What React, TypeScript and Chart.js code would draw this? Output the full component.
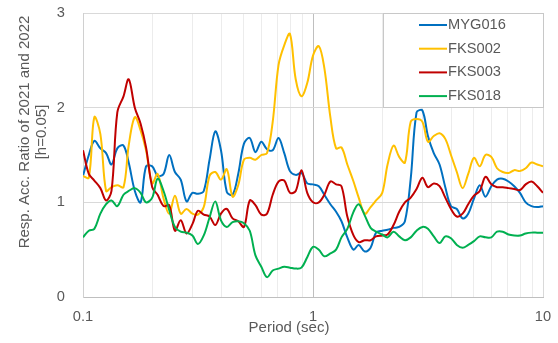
import React, { useEffect, useRef } from "react";
import { Chart, registerables } from "chart.js";

Chart.register(...registerables);

// ---- data ----
const periods = [
  0.1, 0.106, 0.112, 0.119, 0.126, 0.133, 0.141, 0.15, 0.158, 0.168,
  0.178, 0.188, 0.2, 0.211, 0.224, 0.237, 0.251, 0.266, 0.282, 0.299,
  0.316, 0.335, 0.355, 0.376, 0.398, 0.422, 0.447, 0.473, 0.501, 0.531,
  0.562, 0.596, 0.631, 0.668, 0.708, 0.75, 0.794, 0.841, 0.891, 0.944,
  1, 1.06, 1.12, 1.19, 1.26, 1.33, 1.41, 1.5, 1.58, 1.68,
  1.78, 1.88, 2, 2.11, 2.24, 2.37, 2.51, 2.66, 2.82, 2.99,
  3.16, 3.35, 3.55, 3.76, 3.98, 4.22, 4.47, 4.73, 5.01, 5.31,
  5.62, 5.96, 6.31, 6.68, 7.08, 7.5, 7.94, 8.41, 8.91, 9.44,
  10,
];

const myg016 = [
  1.28, 1.5, 1.65, 1.57, 1.52, 1.4, 1.57, 1.6, 1.42, 1.12,
  1.0, 1.38, 1.38, 1.28, 1.3, 1.5, 1.32, 1.24, 1.01, 1.1,
  1.09, 1.12, 1.45, 1.75, 1.55, 1.11, 1.08, 1.3, 1.62, 1.68,
  1.53, 1.64, 1.56, 1.55, 1.68, 1.52, 1.33, 1.29, 1.31, 1.2,
  1.19, 1.17, 1.08, 0.98, 0.9, 0.8, 0.63, 0.5, 0.55, 0.48,
  0.52, 0.68, 0.7, 0.71, 0.73, 0.74, 0.8, 1.25, 1.95, 1.97,
  1.7, 1.52, 1.4, 1.16, 0.96, 0.93, 0.83, 0.88, 1.04, 1.18,
  1.06, 1.17, 1.24, 1.25, 1.22, 1.17, 1.1, 1.0, 0.96, 0.95,
  0.96,
];

const fks002 = [
  1.28, 1.26, 1.9, 1.72, 1.12, 1.16, 1.18, 1.16, 1.6, 1.9,
  1.76, 1.55, 1.2, 1.3, 1.04, 0.88, 1.07, 0.88, 0.93, 0.88,
  0.87, 0.95, 1.28, 1.32, 1.24, 1.35, 1.06, 1.18, 1.45, 1.47,
  1.45, 1.5, 1.52, 1.85, 2.45, 2.66, 2.78, 2.3, 2.12, 2.26,
  2.55, 2.65, 2.42, 1.9, 1.57, 1.58, 1.4, 1.22, 1.05, 0.88,
  0.95, 1.02, 1.1, 1.4, 1.6, 1.48, 1.42, 1.85, 1.88, 1.85,
  1.64, 1.7, 1.73, 1.67, 1.5, 1.32, 1.15, 1.3, 1.47, 1.38,
  1.5, 1.48, 1.36, 1.32, 1.31, 1.34, 1.33, 1.36, 1.42, 1.4,
  1.38,
];

const fks003 = [
  1.55, 1.3, 1.23, 1.15, 1.02, 1.12, 1.95, 2.12, 2.3, 2.0,
  1.83, 1.58, 1.16, 1.08, 0.96, 0.97, 0.7, 0.81, 0.67, 0.77,
  0.91, 0.87, 0.85, 0.76, 0.88, 0.93, 0.83, 0.8, 0.74, 1.02,
  0.97, 0.87, 0.88, 1.08, 1.22, 1.23, 1.1, 1.12, 1.34, 1.1,
  1.0, 1.0, 1.08, 1.22, 1.19, 1.17, 0.85, 0.65, 0.58, 0.6,
  0.6, 0.64, 0.65, 0.66, 0.76, 0.9, 1.0, 1.05, 1.14, 1.26,
  1.16, 1.2, 1.17, 1.05, 0.93, 0.85, 0.88, 0.98, 1.07, 1.12,
  1.27, 1.19, 1.16, 1.16, 1.15, 1.14, 1.13, 1.19, 1.22, 1.17,
  1.1,
];

const fks018 = [
  0.63, 0.7, 0.72, 0.88, 0.98, 1.02, 0.96, 1.08, 1.12, 1.15,
  1.1, 1.0, 1.05, 1.25, 1.12, 0.92, 0.74, 0.69, 0.68, 0.65,
  0.56, 0.65, 0.84, 1.01, 0.81, 0.74, 0.79, 0.8, 0.78, 0.7,
  0.44, 0.32, 0.21, 0.28, 0.3, 0.32, 0.31, 0.3, 0.31, 0.42,
  0.53, 0.5, 0.43, 0.46, 0.5, 0.63, 0.72, 0.9, 0.98, 0.86,
  0.73, 0.69, 0.66, 0.63, 0.69, 0.64, 0.6, 0.63, 0.7, 0.74,
  0.72, 0.64, 0.57, 0.64, 0.62, 0.55, 0.52, 0.55, 0.59, 0.64,
  0.63, 0.63, 0.69, 0.69, 0.66, 0.65, 0.65, 0.67, 0.68, 0.68,
  0.68,
];

const seriesNames = ["MYG016", "FKS002", "FKS003", "FKS018"];
const seriesColors = ["#0070C0", "#FFC000", "#C00000", "#00B050"];

const xGridValues = [
  0.1, 0.2, 0.3, 0.4, 0.5, 0.6, 0.7, 0.8, 0.9,
  1, 2, 3, 4, 5, 6, 7, 8, 9, 10,
];
const xLabelValues = [0.1, 1, 10];
const yMin = 0;
const yMax = 3;
const yStep = 1;

const yTitleLines = ["Resp. Acc. Ratio of 2021 and 2022", "[h=0.05]"];
const xTitle = "Period (sec)";

const FONT = '"Liberation Sans", Arial, sans-serif';
const TEXT = "#595959";

const overlayPlugin = {
  id: "overlay",
  afterDraw(chart: any) {
    const { ctx, chartArea } = chart;
    ctx.save();
    ctx.fillStyle = TEXT;
    ctx.textAlign = "center";
    ctx.textBaseline = "middle";
    ctx.font = `15px ${FONT}`;
    const midY = chartArea.top + 119;
    yTitleLines.forEach((line, i) => {
      ctx.save();
      ctx.translate(25 + i * 17, midY);
      ctx.rotate(-Math.PI / 2);
      ctx.fillText(line, 0, 0);
      ctx.restore();
    });
    ctx.fillText(xTitle, chartArea.left + 206, chartArea.bottom + 31);

    // legend box
    const bw = 160;
    const bh = 94;
    const bx = chartArea.right - bw;
    const by = chartArea.top;
    ctx.fillStyle = "#ffffff";
    ctx.fillRect(bx, by, bw, bh);
    ctx.strokeStyle = "#c8c8c8";
    ctx.lineWidth = 1;
    ctx.strokeRect(Math.round(bx) + 0.5, Math.round(by) + 0.5, bw, bh);
    ctx.font = `14.67px ${FONT}`;
    ctx.textAlign = "left";
    chart.data.datasets.forEach((ds: any, i: number) => {
      const yy = by + 12 + i * 23.7;
      ctx.strokeStyle = ds.borderColor;
      ctx.lineWidth = 2;
      ctx.beginPath();
      ctx.moveTo(bx + 36, yy);
      ctx.lineTo(bx + 64, yy);
      ctx.stroke();
      ctx.fillStyle = TEXT;
      ctx.fillText(ds.label, bx + 65, yy);
    });
    ctx.restore();
  },
};

export default function App() {
  const canvasRef = useRef<HTMLCanvasElement | null>(null);

  useEffect(() => {
    const canvas = canvasRef.current;
    if (!canvas) return;
    const all = [myg016, fks002, fks003, fks018];
    const chart = new Chart(canvas, {
      type: "line",
      data: {
        datasets: all.map((vals, i) => ({
          label: seriesNames[i],
          data: periods.map((p, j) => ({ x: p, y: vals[j] })),
          borderColor: seriesColors[i],
          backgroundColor: seriesColors[i],
          borderWidth: 2,
          pointRadius: 0,
          tension: 0.35,
          fill: false,
          order: 4 - i,
        })),
      },
      options: {
        responsive: false,
        animation: false,
        devicePixelRatio: 1,
        layout: { padding: { left: 0, right: 15, top: 13, bottom: 0 } },
        plugins: {
          legend: { display: false },
          tooltip: { enabled: false },
        },
        scales: {
          x: {
            type: "logarithmic",
            min: 0.1,
            max: 10,
            afterBuildTicks: (scale: any) => {
              scale.ticks = xGridValues.map((v) => ({ value: v, major: xLabelValues.includes(v) }));
            },
            afterFit: (scale: any) => {
              scale.height = 46;
              scale.paddingLeft = 0;
              scale.paddingRight = 0;
            },
            ticks: {
              autoSkip: false,
              maxRotation: 0,
              padding: 11,
              color: TEXT,
              font: { family: FONT, size: 14.67 },
              callback: (v: any) => (xLabelValues.includes(Number(v)) ? String(v) : ""),
            },
            grid: {
              drawTicks: false,
              color: (c: any) => {
                const v = c.tick && c.tick.value;
                if (v === 1) return "#bfbfbf";
                if (v === 10) return "#d9d9d9";
                return "#ececec";
              },
            },
            border: { color: "#bfbfbf" },
          },
          y: {
            type: "linear",
            min: yMin,
            max: yMax,
            afterFit: (scale: any) => {
              scale.width = 83;
              scale.paddingTop = 0;
              scale.paddingBottom = 0;
            },
            ticks: {
              stepSize: yStep,
              padding: 18,
              color: TEXT,
              font: { family: FONT, size: 14.67 },
            },
            grid: { drawTicks: false, color: "#d9d9d9" },
            border: { color: "#d0d0d0" },
          },
        },
      },
      plugins: [overlayPlugin],
    });
    return () => chart.destroy();
  }, []);

  return (
    <div style={{ position: "absolute", left: 0, top: 0, width: 558, height: 343, background: "#fff" }}>
      <canvas ref={canvasRef} width={558} height={343} />
    </div>
  );
}
